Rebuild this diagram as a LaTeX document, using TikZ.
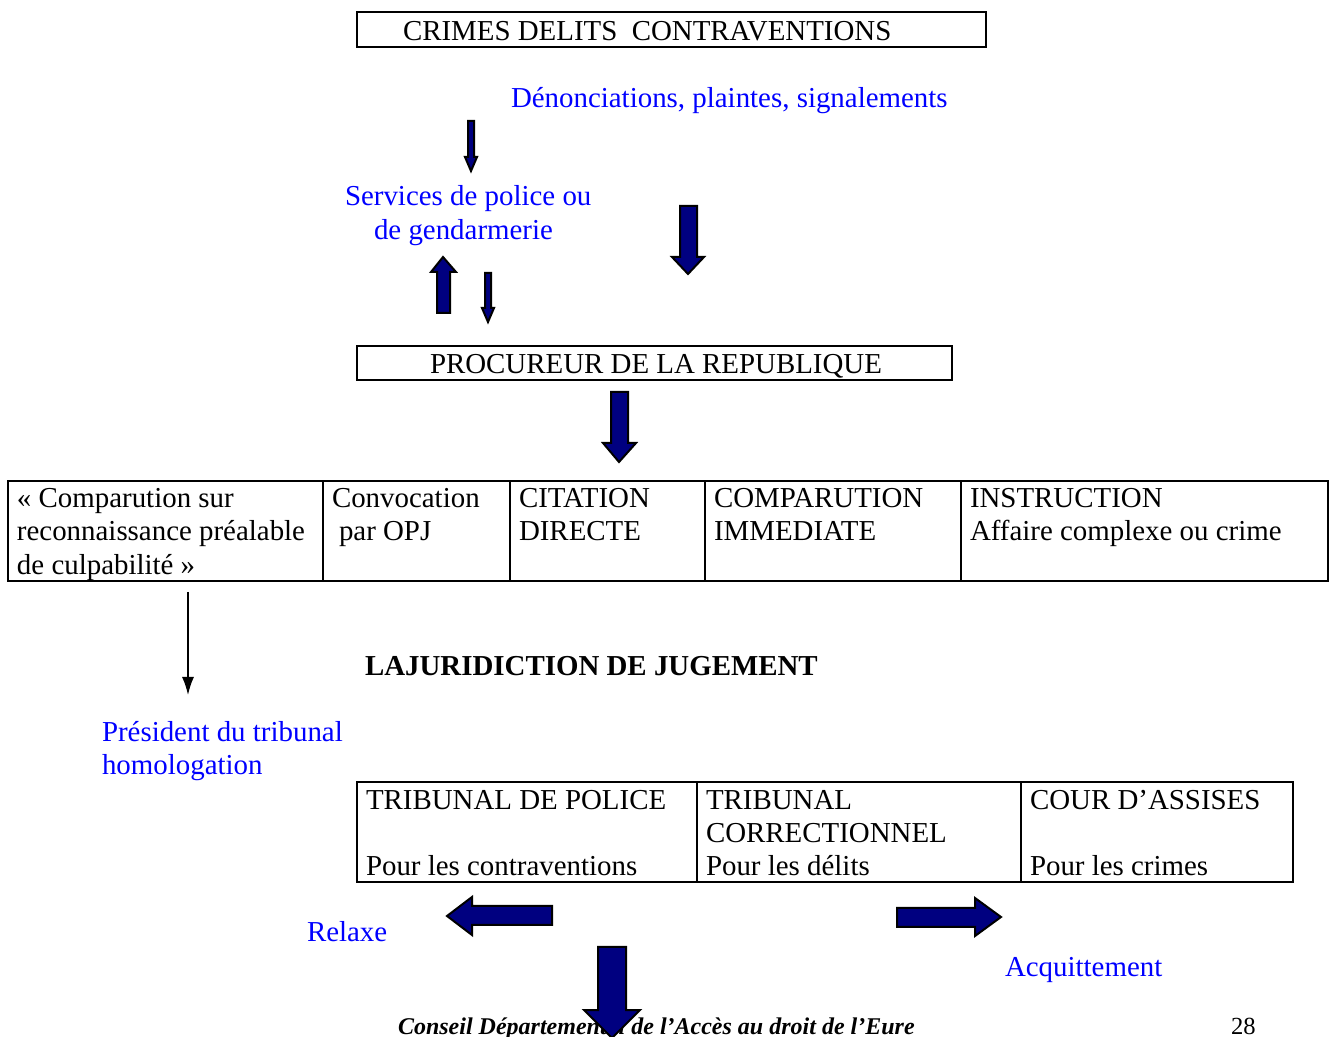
\documentclass[tikz,border=0pt]{standalone}
\usepackage{fontspec}
\setmainfont{Liberation Serif}
\usetikzlibrary{arrows.meta}
\definecolor{navyb}{RGB}{0,0,128}
\definecolor{txtblue}{RGB}{0,0,255}
\begin{document}
\begin{tikzpicture}[x=0.5pt,y=-0.5pt,
  every node/.style={inner sep=0pt,outer sep=0pt,font=\fontsize{14.45}{16.5}\selectfont},
  txt/.style={anchor=base west},
  bl/.style={anchor=base west,text=txtblue},
  box/.style={draw=black,line width=0.6pt},
  barrow/.style={fill=navyb,draw=black,line width=1pt,line join=miter},
  thin/.style={draw=black,line width=0.8pt,-{Latex[length=9pt,width=6pt]}}]
\useasboundingbox (0,0) rectangle (1330,1037);
% top box
\draw[box] (357,12) rectangle (986,47);
\node[txt] (crimes) at (403,41) {CRIMES DELITS\ \ CONTRAVENTIONS};
\node[bl] (denon) at (511,108) {Dénonciations, plaintes, signalements};
% police
\node[bl] (serv1) at (345,206) {Services de police ou};
\node[bl] (serv2) at (374,240) {de gendarmerie};
% arrows top area
\draw[barrow] (468,121) -- (474,121) -- (474,157) -- (477,157) -- (471,171) -- (465,157) -- (468,157) -- cycle;
\draw[barrow] (680,206) -- (697,206) -- (697,257) -- (704,257) -- (688,274) -- (672,257) -- (680,257) -- cycle;
\draw[barrow] (437,313) -- (450,313) -- (450,272) -- (456,272) -- (443,257) -- (431,272) -- (437,272) -- cycle;
\draw[barrow] (485,273) -- (491,273) -- (491,308) -- (494,308) -- (488,322) -- (482,308) -- (485,308) -- cycle;
% procureur
\draw[box] (357,346) rectangle (952,380);
\node[txt] (proc) at (430,374) {PROCUREUR DE LA REPUBLIQUE};
\draw[barrow] (611,392) -- (628,392) -- (628,443) -- (636,443) -- (619,462) -- (603,443) -- (611,443) -- cycle;
% middle table
\draw[box] (8,481) rectangle (1328,581);
\foreach \xx in {323,510,705,961} \draw[box] (\xx,481) -- (\xx,581);
\node[txt] (c1a) at (17,508) {« Comparution sur};
\node[txt] (c1b) at (17,541) {reconnaissance préalable};
\node[txt] (c1c) at (17,575) {de culpabilité »};
\node[txt] (c2a) at (332,508) {Convocation};
\node[txt] (c2b) at (339,541) {par OPJ};
\node[txt] (c3a) at (519,508) {CITATION};
\node[txt] (c3b) at (519,541) {DIRECTE};
\node[txt] (c4a) at (714,508) {COMPARUTION};
\node[txt] (c4b) at (714,541) {IMMEDIATE};
\node[txt] (c5a) at (970,508) {INSTRUCTION};
\node[txt] (c5b) at (970,541) {Affaire complexe ou crime};
% thin arrow to president
\coordinate (a1) at (188,592);
\coordinate (a2) at (188,695);
\draw[thin] (a1) -- (a2);
\node[txt,font=\fontsize{14.45}{16.5}\selectfont\bfseries] (juri) at (365,676) {LAJURIDICTION DE JUGEMENT};
\node[bl] (pres1) at (102,742) {Président du tribunal};
\node[bl] (pres2) at (102,775) {homologation};
% bottom table
\draw[box] (357,782) rectangle (1293,882);
\foreach \xx in {697,1021} \draw[box] (\xx,782) -- (\xx,882);
\node[txt] (t1a) at (366,810) {TRIBUNAL DE POLICE};
\node[txt] (t1c) at (366,876) {Pour les contraventions};
\node[txt] (t2a) at (706,810) {TRIBUNAL};
\node[txt] (t2b) at (706,843) {CORRECTIONNEL};
\node[txt] (t2c) at (706,876) {Pour les délits};
\node[txt] (t3a) at (1030,810) {COUR D’ASSISES};
\node[txt] (t3c) at (1030,876) {Pour les crimes};
% outcome arrows
\draw[barrow] (552,906) -- (472,906) -- (472,897) -- (447,916) -- (472,935) -- (472,925) -- (552,925) -- cycle;
\draw[barrow] (897,908) -- (975,908) -- (975,898) -- (1001,917) -- (975,936) -- (975,927) -- (897,927) -- cycle;
\node[bl] (relaxe) at (307,942) {Relaxe};
\node[bl] (acq) at (1005,977) {Acquittement};
% footer
\node[txt,font=\fontsize{12}{13.5}\selectfont\bfseries\itshape] (foot) at (398,1034) {Conseil Départemental de l’Accès au droit de l’Eure};
\node[txt,font=\fontsize{12.3}{13.5}\selectfont] (page) at (1231,1034) {28};
\draw[barrow] (598,947) -- (626,947) -- (626,1010) -- (640,1010) -- (612,1038) -- (584,1010) -- (598,1010) -- cycle;
\end{tikzpicture}
\end{document}
